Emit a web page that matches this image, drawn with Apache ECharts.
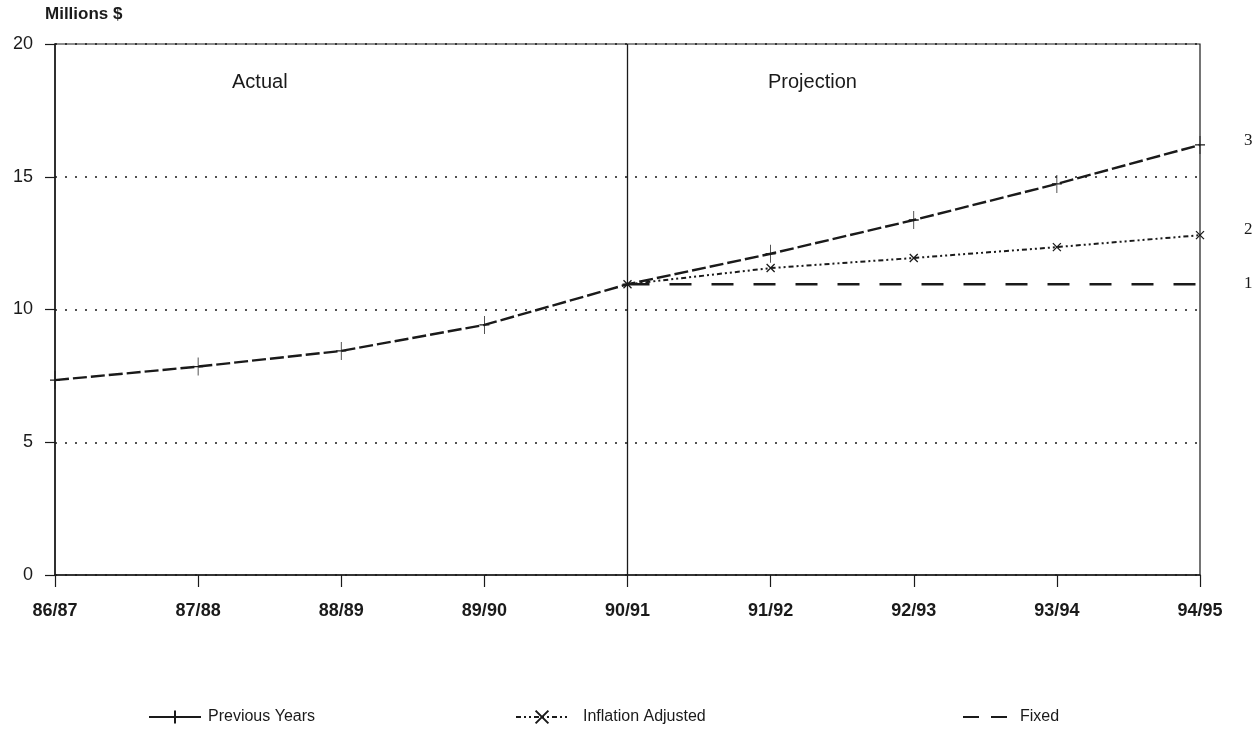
<!DOCTYPE html>
<html>
<head>
<meta charset="utf-8">
<script src="https://cdn.jsdelivr.net/npm/echarts@6/dist/echarts.min.js"></script>
<style>html,body{margin:0;padding:0;background:#fff;}#c{width:1256px;height:729px;}</style>
</head>
<body>
<div id="c"></div>
<script>
const categories = ['86/87','87/88','88/89','89/90','90/91','91/92','92/93','93/94','94/95'];
const previousYears = [7.34, 7.85, 8.44, 9.42, 10.95, 12.1, 13.37, 14.73, 16.2];
const inflationAdjusted = [null, null, null, null, 10.95, 11.56, 11.94, 12.35, 12.8];
const fixed = [null, null, null, null, 10.95, 10.95, 10.95, 10.95, 10.95];
const endLabels = ['3', '2', '1'];
const yTicks = [0, 5, 10, 15, 20];

const chart = echarts.init(document.getElementById('c'));
const ink = '#1a1a1a';
const font = 'Liberation Sans, Arial, Helvetica, sans-serif';

function endLabel(txt, dy) {
  return {show: true, formatter: txt, distance: 44, offset: [0, dy], color: ink,
          fontFamily: 'Liberation Serif, Times New Roman, serif', fontSize: 17};
}

chart.setOption({
  backgroundColor: '#fff',
  animation: false,
  grid: {left: 55, right: 56, top: 44, bottom: 154, show: true, borderColor: ink, borderWidth: 1.2},
  graphic: [
    {type: 'text', left: 45, top: 6, style: {text: 'Millions $', font: 'bold 17px ' + font, fill: ink}},
    {type: 'text', left: 232, top: 72, style: {text: 'Actual', font: '20px ' + font, fill: ink}},
    {type: 'text', left: 768, top: 72, style: {text: 'Projection', font: '20px ' + font, fill: ink}}
  ],
  legend: [
    {left: 143, top: 704, itemWidth: 52, itemHeight: 16, data: ['Previous Years'],
     lineStyle: {type: 'solid'}, textStyle: {fontSize: 16, fontFamily: font, color: ink, padding: [0, 0, 0, 2]}},
    {left: 510, top: 704, itemWidth: 52, itemHeight: 16, data: ['Inflation Adjusted'],
     textStyle: {fontSize: 16, fontFamily: font, color: ink, padding: [0, 0, 0, 10]}},
    {left: 958, top: 704, itemWidth: 44, itemHeight: 3,
     data: [{name: 'Fixed', icon: 'path://M0,0L16,0L16,2L0,2ZM28,0L44,0L44,2L28,2Z'}],
     textStyle: {fontSize: 16, fontFamily: font, color: ink, padding: [0, 0, 0, 8]}}
  ],
  xAxis: {
    type: 'category', data: categories, boundaryGap: false,
    axisLine: {lineStyle: {color: ink, width: 1.5}},
    axisTick: {show: true, length: 12, inside: false, lineStyle: {color: ink, width: 1.2}},
    axisLabel: {color: ink, fontSize: 18, fontWeight: 'bold', fontFamily: font, margin: 27},
    splitLine: {show: false}
  },
  yAxis: {
    type: 'value', min: 0, max: 20, interval: 5,
    axisLine: {show: true, lineStyle: {color: ink, width: 1.5}},
    axisTick: {show: true, length: 10, lineStyle: {color: ink, width: 1.2}},
    axisLabel: {color: ink, fontSize: 18, fontFamily: font, margin: 22,
                formatter: v => yTicks.includes(v) ? String(v) : ''},
    splitLine: {show: true, lineStyle: {color: ink, type: [2, 8], width: 1.6}}
  },
  series: [
    {
      name: 'Previous Years', type: 'line', data: previousYears,
      symbol: 'path://M5,0L5,20M0,10L10,10', symbolSize: [10, 18],
      itemStyle: {color: 'rgba(0,0,0,0)', borderColor: ink, borderWidth: 1},
      lineStyle: {color: ink, width: 2.4, type: [14, 4]},
      endLabel: endLabel(endLabels[0], -4),
      z: 4,
      markLine: {
        silent: true, symbol: 'none', label: {show: false},
        lineStyle: {color: ink, type: 'solid', width: 1.3},
        data: [{xAxis: '90/91'}]
      }
    },
    {
      name: 'Inflation Adjusted', type: 'line', data: inflationAdjusted,
      symbol: 'path://M0,10L10,0M0,0L10,10', symbolSize: 8,
      itemStyle: {color: 'rgba(0,0,0,0)', borderColor: ink, borderWidth: 1.3},
      lineStyle: {color: ink, width: 2, type: [5, 3, 2, 3, 2, 3]},
      endLabel: endLabel(endLabels[1], -6),
      z: 3
    },
    {
      name: 'Fixed', type: 'line', data: fixed, showSymbol: false, symbol: 'none',
      itemStyle: {color: ink},
      lineStyle: {color: ink, width: 2.4, type: [22, 20]},
      endLabel: endLabel(endLabels[2], -1),
      z: 2
    }
  ]
});
</script>
</body>
</html>
